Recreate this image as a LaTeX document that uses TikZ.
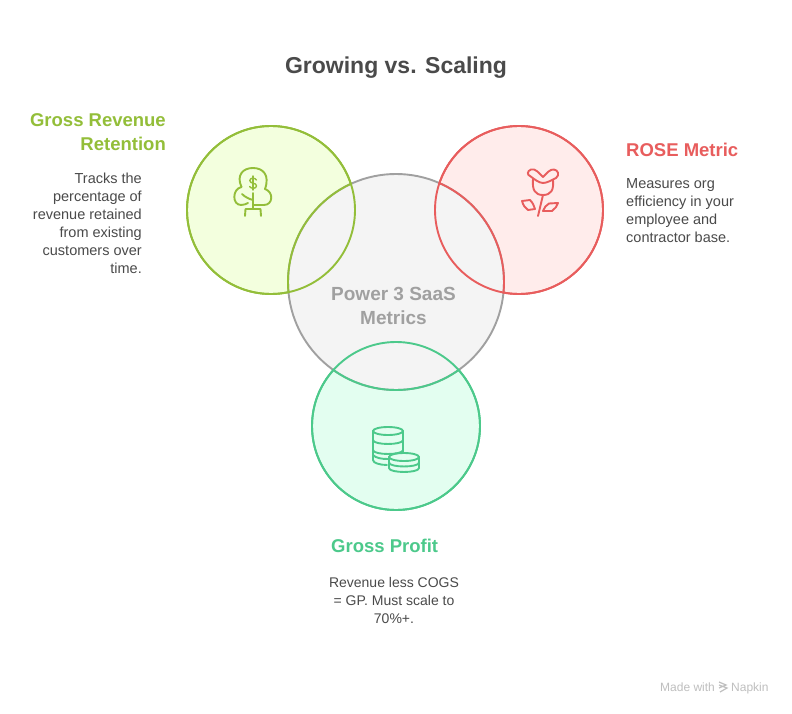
\documentclass[tikz,border=0pt]{standalone}
\usepackage{fontspec}
\setmainfont{Liberation Sans}
\definecolor{gT}{HTML}{93BE39}
\definecolor{gF}{HTML}{F3FFDE}
\definecolor{rT}{HTML}{E85D5D}
\definecolor{rF}{HTML}{FFECEB}
\definecolor{tT}{HTML}{4CC98B}
\definecolor{tF}{HTML}{E3FEF0}
\definecolor{kT}{HTML}{A0A0A0}
\definecolor{kF}{HTML}{F4F4F4}
\definecolor{txt}{HTML}{4A4A4A}
\tikzset{
 venn/.style={circle,draw=#1,line width=1.9pt,inner sep=0pt,minimum size=168pt},
 head/.style={font=\fontsize{18.5}{24}\selectfont\bfseries,inner sep=0pt,align=#1},
 body/.style={font=\fontsize{14.5}{18}\selectfont,text=txt,inner sep=0pt,align=#1},
 ico/.style={line width=1.9pt,line cap=round,line join=round,draw=#1},
 ring/.style={line width=1.9pt,draw=#1}
}
\begin{document}
\begin{tikzpicture}[x=1pt,y=-1pt]
\useasboundingbox (0,0) rectangle (792,714);
\fill[white] (0,0) rectangle (792,714);
\node[venn=gT,fill=gF] (grr) at (271,210) {};
\node[venn=rT,fill=rF] (rose) at (519,210) {};
\node[venn=tT,fill=tF] (gp) at (396,426) {};
\node[venn=kT,fill=kF,minimum size=216pt] (core) at (396,282) {};
% lenses: the overlap keeps the grey fill and takes the outer circle's colour
\begin{scope}\clip (271,210) circle[radius=85];\draw[ring=gT] (396,282) circle[radius=108];\end{scope}
\begin{scope}\clip (519,210) circle[radius=85];\draw[ring=rT] (396,282) circle[radius=108];\end{scope}
\begin{scope}\clip (396,426) circle[radius=85];\draw[ring=tT] (396,282) circle[radius=108];\end{scope}
\draw[ring=gT] (271,210) circle[radius=84];
\draw[ring=rT] (519,210) circle[radius=84];
\draw[ring=tT] (396,426) circle[radius=84];
\node[font=\fontsize{23}{28}\selectfont\bfseries,text=txt,inner sep=0pt] (title) at (396,68) {Growing vs. Scaling};
\node[font=\fontsize{19}{24}\selectfont\bfseries,text=kT,align=center,inner sep=0pt] (lab) at (393.5,306) {Power 3 SaaS\\Metrics};
\node[head=right,text=gT,anchor=north east] (h1) at (166,113) {Gross Revenue\\Retention};
\node[body=right,anchor=north east] (b1) at (142,172.5) {Tracks the\\percentage of\\revenue retained\\from existing\\customers over\\time.};
\node[head=left,text=rT,anchor=north west] (h2) at (626,143) {ROSE Metric};
\node[body=left,anchor=north west] (b2) at (626,178.5) {Measures org\\efficiency in your\\employee and\\contractor base.};
\node[head=left,text=tT,anchor=north west] (h3) at (331,538.5) {Gross Profit};
\node[body=center,anchor=north,font=\fontsize{14}{18}\selectfont] (b3) at (394,577) {Revenue less COGS\\= GP. Must scale to\\70\%+.};
% money tree icon
\begin{scope}[ico=gT]
\draw (241.5,187) .. controls (236,175) and (243,168) .. (253,168) .. controls (263,168) and (270,175) .. (265,189);
\draw (241.5,187) .. controls (232,189) and (232,205) .. (241,205) .. controls (244,205) and (246,204) .. (248,203);
\draw (265,189) .. controls (274,192) and (273,205) .. (264,205) -- (254,205);
\draw (242,194) .. controls (245,197) and (249,199) .. (253,200);
\draw (253,193) -- (253,209);
\draw (245,216) -- (245.5,209) -- (260.5,209) -- (261,216);
\draw[line width=1.4pt] (256.5,180) .. controls (255,177.5) and (250,177.5) .. (249.8,180.5) .. controls (249.8,184) and (256.5,182.5) .. (256.5,185.8) .. controls (256.5,189) and (251,189) .. (249.6,186.5);
\draw[line width=1.4pt] (253,176) -- (253,190);
\end{scope}
% rose icon
\begin{scope}[ico=rT]
\draw (543,177) .. controls (539,173) and (535,168) .. (531,169.5) .. controls (527,171) and (527,175) .. (530,176) .. controls (534,179) and (539,183) .. (543,183) .. controls (547,183) and (552,180) .. (556,178) .. controls (560,175) and (558,170) .. (554,169.5) .. controls (550,169) and (547,173) .. (543,177) -- cycle;
\draw (533,179) .. controls (532,190) and (535,195) .. (543,195) .. controls (551,195) and (554,190) .. (553,180);
\draw (543,195) -- (538,216);
\draw (522,201) -- (530,200) .. controls (533,203) and (534,206) .. (535,209) -- (528,210) .. controls (525,208) and (523,205) .. (522,201) -- cycle;
\draw (558,203) -- (549,203.5) .. controls (546,205) and (544,208) .. (543,211) -- (552,211) .. controls (555,209) and (557,206) .. (558,203) -- cycle;
\end{scope}
% coins icon
\begin{scope}[ico=tT]
\draw (388,431) ellipse (15 and 4);
\draw (373,431) -- (373,460) .. controls (373,463) and (380,465) .. (387,465);
\draw (403,431) -- (403,452);
\draw (373,440) .. controls (373,445.3) and (403,445.3) .. (403,440);
\draw (373,450) .. controls (373,455.3) and (403,455.3) .. (403,450);
\draw (373,455) .. controls (376,458) and (381,459) .. (388,459);
\draw (404,457) ellipse (15 and 4);
\draw (389,457) -- (389,468) .. controls (389,473.3) and (419,473.3) .. (419,468) -- (419,457);
\draw (389,462.5) .. controls (389,467.8) and (419,467.8) .. (419,462.5);
\end{scope}
\node[font=\fontsize{12}{13}\selectfont,text=black!25,inner sep=0pt,anchor=base west] (mw) at (660,691) {Made with};
\node[font=\fontsize{12}{13}\selectfont,text=black!25,inner sep=0pt,anchor=base west] (nap) at (731,691) {Napkin};
\draw[black!25,line width=1.2pt] (719,682) -- (726,685) -- (719,688) (719,685) -- (727,688) -- (720,692);
\end{tikzpicture}
\end{document}
